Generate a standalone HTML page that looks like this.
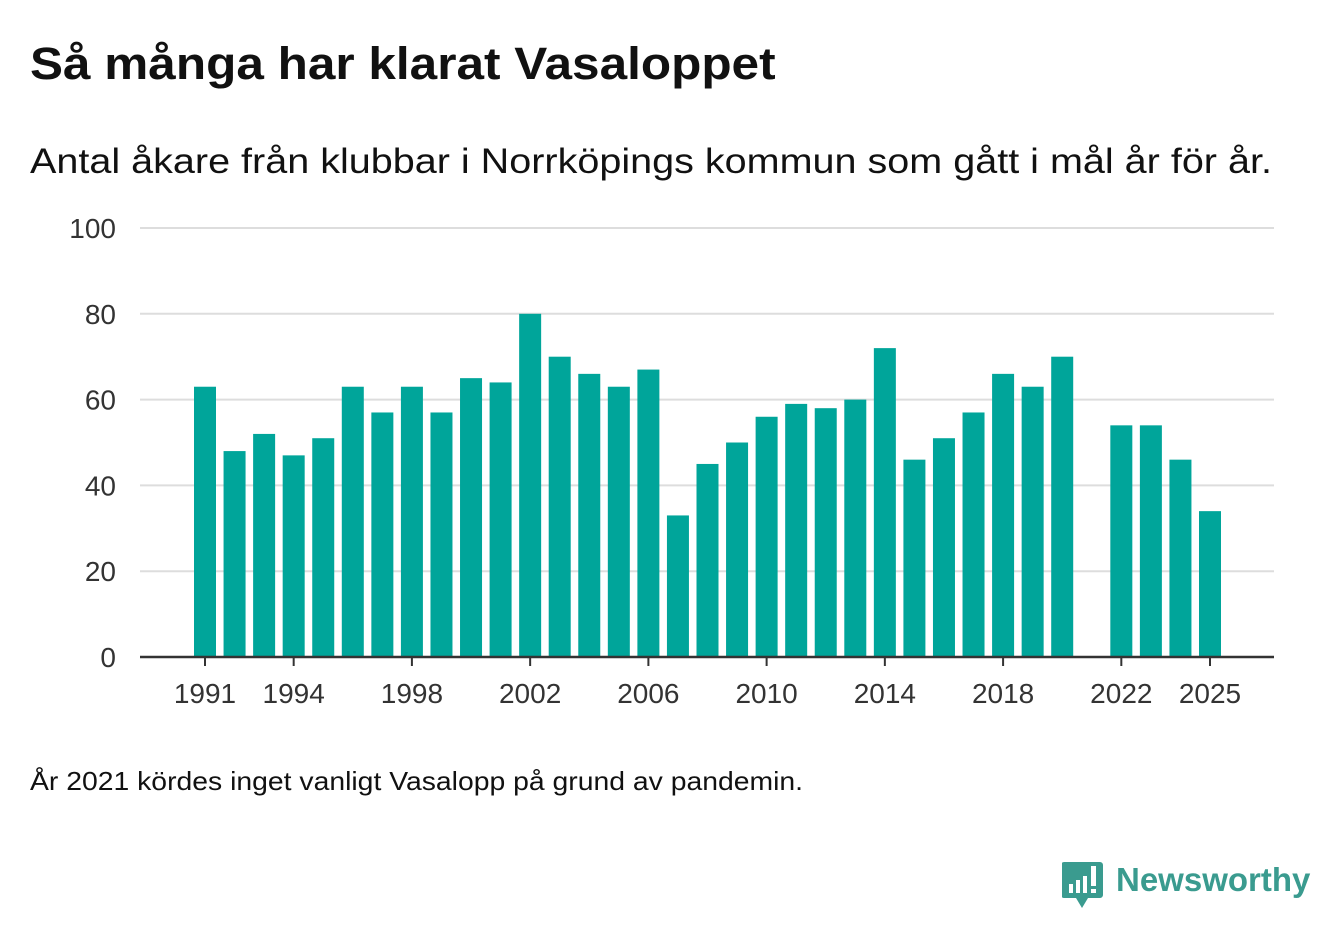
<!DOCTYPE html>
<html><head><meta charset="utf-8">
<style>
body{margin:0;background:#fff;font-family:"Liberation Sans","DejaVu Sans",sans-serif;color:#111;}
#wrap{position:relative;width:1340px;height:940px;overflow:hidden;}
h1{position:absolute;left:30px;top:38px;margin:0;font-size:45px;font-weight:bold;transform:scaleX(1.10);transform-origin:left top;white-space:nowrap;}
.sub{position:absolute;left:30px;top:142px;font-size:35px;transform:scaleX(1.13);transform-origin:left top;white-space:nowrap;}
.note{position:absolute;left:30px;top:766px;font-size:26px;transform:scaleX(1.09);transform-origin:left top;white-space:nowrap;}
svg text{font-family:"Liberation Sans","DejaVu Sans",sans-serif;}
</style></head><body>
<div id="wrap">
<h1>Så många har klarat Vasaloppet</h1>
<div class="sub">Antal åkare från klubbar i Norrköpings kommun som gått i mål år för år.</div>
<svg id="chart" width="1340" height="940" style="position:absolute;left:0;top:0"></svg>
<div class="note">År 2021 kördes inget vanligt Vasalopp på grund av pandemin.</div>
<div style="position:absolute;left:1062px;top:862px;">
<svg width="42" height="48"><path d="M2 0h36a3 3 0 0 1 3 3v30a3 3 0 0 1-3 3H26l-6 10-6-10H2a3 3 0 0 1-3-3V3a3 3 0 0 1 3-3z" fill="#3a9b8f"/><rect x="7" y="22" width="4" height="9" fill="#fff"/><rect x="14" y="18" width="4" height="13" fill="#fff"/><rect x="21" y="14" width="4" height="17" fill="#fff"/><rect x="29" y="4" width="5" height="20" fill="#fff"/><rect x="29" y="27" width="5" height="4" fill="#fff"/></svg>
<span style="position:absolute;left:54px;top:-1px;font-size:33px;font-weight:bold;color:#3a9b8f;white-space:nowrap">Newsworthy</span>
</div>
</div>
<script>
const years=[1991,1992,1993,1994,1995,1996,1997,1998,1999,2000,2001,2002,2003,2004,2005,2006,2007,2008,2009,2010,2011,2012,2013,2014,2015,2016,2017,2018,2019,2020,2021,2022,2023,2024,2025];
const values=[63,48,52,47,51,63,57,63,57,65,64,80,70,66,63,67,33,45,50,56,59,58,60,72,46,51,57,66,63,70,null,54,54,46,34];
const yTicks=[0,20,40,60,80,100];
const xTickYears=[1991,1994,1998,2002,2006,2010,2014,2018,2022,2025];
const NS="http://www.w3.org/2000/svg";
const svg=document.getElementById('chart');
const L=140,R=1274,Y0=657,Y100=228;
const y=v=>Y0-(v/100)*(Y0-Y100);
const x=yr=>205+(yr-1991)*(1210-205)/(2025-1991);
function mk(t,a){const e=document.createElementNS(NS,t);for(const k in a)e.setAttribute(k,a[k]);svg.appendChild(e);return e;}
yTicks.forEach(t=>{
  if(t>0){const g=mk('line',{x1:L,x2:R,y1:y(t),y2:y(t),stroke:'#ddd','stroke-width':2});
  
  }
  const tx=mk('text',{x:116,y:y(t)+10,'text-anchor':'end','font-size':28,fill:'#333'});tx.textContent=t;
  
  
});
years.forEach((yr,i)=>{
  const v=values[i]; if(v==null)return;
  const r=mk('rect',{x:x(yr)-11,y:y(v),width:22,height:Y0-y(v),fill:'#00a59a'});
  
  
});
const ax=mk('line',{x1:L,x2:R,y1:Y0,y2:Y0,stroke:'#333','stroke-width':2.5});


xTickYears.forEach(yr=>{
  const tk=mk('line',{x1:x(yr),x2:x(yr),y1:Y0,y2:Y0+9,stroke:'#333','stroke-width':2});
  
  
  const tx=mk('text',{x:x(yr),y:703,'text-anchor':'middle','font-size':28,fill:'#333'});tx.textContent=yr;
  
  
});
</script>
</body></html>
